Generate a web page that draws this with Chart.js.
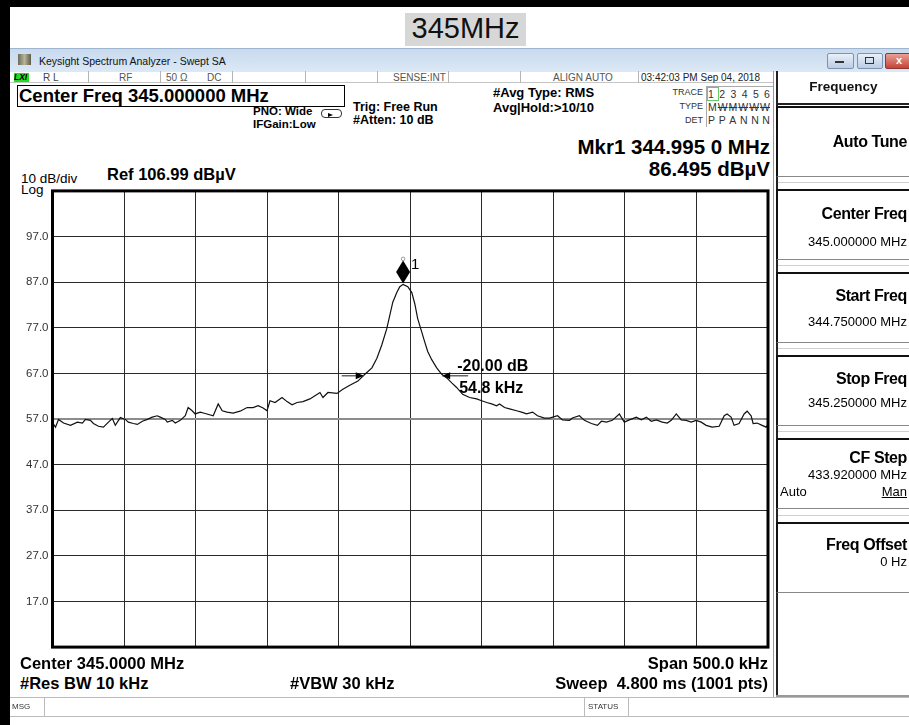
<!DOCTYPE html>
<html>
<head>
<meta charset="utf-8">
<script src="https://cdn.jsdelivr.net/npm/chart.js@4.4.0/dist/chart.umd.min.js"></script>
<style>
body{margin:0;width:909px;height:725px;position:relative;overflow:hidden;background:#fff;font-family:"Liberation Sans",Arial,sans-serif;color:#000}
.a{position:absolute;white-space:nowrap;line-height:1}
.b{font-weight:bold}
.r{text-align:right}
.key{position:absolute;left:776px;width:140px;height:68px;border-top:2px solid #111;border-left:2px solid #111;border-bottom:1px solid #888;background:#fff}
.gap{position:absolute;left:778px;width:131px;height:1px;background:#d0d0d0}
.sep{position:absolute;top:71px;width:1px;height:12px;background:#b5b5b5}
.tr{position:absolute;left:708px;width:62px;display:flex;justify-content:space-between;font-size:10.5px;line-height:1;color:#333}
.kl{font-size:16px;letter-spacing:-0.4px}
</style>
</head>
<body>
<!-- frame -->
<div class="a" style="left:0;top:0;width:909px;height:7px;background:#000"></div>
<div class="a" style="left:0;top:0;width:10px;height:725px;background:#000"></div>

<div class="a" style="left:405px;top:13px;width:121px;height:33px;background:#d7d7d7"></div>
<div class="a" style="left:405px;top:14px;width:121px;font-size:29px;text-align:center;color:#111">345MHz</div>

<!-- window title bar -->
<div class="a" style="left:10px;top:48px;width:899px;height:23px;background:linear-gradient(#c8daee,#dce8f5);border-top:1px solid #9fb4cf"></div>
<div class="a" style="left:18px;top:54px;width:13px;height:11px;background:linear-gradient(90deg,#6b6b5a,#b8b49a,#5c5c4c)"></div>
<div class="a" style="left:39px;top:55.5px;font-size:10.5px;color:#111">Keysight Spectrum Analyzer - Swept SA</div>
<div class="a" style="left:827px;top:53px;width:25px;height:14px;border:1px solid #7d93b0;border-radius:2px;background:linear-gradient(#e8f0f9,#bccde3)"></div>
<div class="a" style="left:835px;top:61px;width:9px;height:2px;background:#333"></div>
<div class="a" style="left:857px;top:53px;width:24px;height:14px;border:1px solid #7d93b0;border-radius:2px;background:linear-gradient(#e8f0f9,#bccde3)"></div>
<div class="a" style="left:865px;top:57px;width:7px;height:5px;border:1px solid #333"></div>
<div class="a" style="left:885px;top:53px;width:30px;height:14px;border:1px solid #8a3a32;border-radius:2px;background:linear-gradient(#e8a093,#c6443a)"></div>
<div class="a b" style="left:896px;top:55px;font-size:11px;color:#fff">x</div>

<!-- status row -->
<div class="a" style="left:10px;top:82px;width:763px;height:1px;background:#c5c5c5"></div>
<div class="a" style="left:14px;top:73px;width:15px;height:9px;background:#22dd22"></div>
<div class="a b" style="left:14px;top:73px;font-size:8.5px;font-style:italic">LXI</div>
<div class="a" style="left:43px;top:72.5px;font-size:10px;color:#444">R L</div>
<div class="sep" style="left:88px"></div>
<div class="a" style="left:119px;top:72.5px;font-size:10px;color:#555">RF</div>
<div class="sep" style="left:160px"></div>
<div class="a" style="left:166px;top:72.5px;font-size:10px;color:#555">50 Ω</div>
<div class="a" style="left:207px;top:72.5px;font-size:10px;color:#555">DC</div>
<div class="sep" style="left:232px"></div>
<div class="sep" style="left:305px"></div>
<div class="sep" style="left:377px"></div>
<div class="a" style="left:393px;top:72.5px;font-size:10px;color:#555">SENSE:INT</div>
<div class="sep" style="left:448px"></div>
<div class="sep" style="left:520px"></div>
<div class="a" style="left:553px;top:72.5px;font-size:10px;color:#555">ALIGN AUTO</div>
<div class="sep" style="left:638px"></div>
<div class="a" style="left:641px;top:72.5px;font-size:10px;color:#222">03:42:03 PM Sep 04, 2018</div>

<!-- settings -->
<div class="a" style="left:17px;top:85px;width:326px;height:20px;border:1px solid #000"></div>
<div class="a b" style="left:19px;top:86.5px;font-size:18.5px">Center Freq 345.000000 MHz</div>
<div class="a b" style="left:253px;top:105.5px;font-size:11.5px">PNO: Wide</div>
<div class="a" style="left:321px;top:109px;width:19px;height:7px;border:1px solid #333;border-radius:4px"></div>
<div class="a" style="left:328px;top:113px;width:0;height:0;border-left:5px solid #000;border-top:2.5px solid transparent;border-bottom:2.5px solid transparent"></div>
<div class="a b" style="left:253px;top:118.5px;font-size:11.5px">IFGain:Low</div>
<div class="a b" style="left:353px;top:101.4px;font-size:12.5px">Trig: Free Run</div>
<div class="a b" style="left:353px;top:114.4px;font-size:12.5px">#Atten: 10 dB</div>
<div class="a b" style="left:493px;top:86.3px;font-size:13px">#Avg Type: RMS</div>
<div class="a b" style="left:493px;top:101.3px;font-size:13px">Avg|Hold:&gt;10/10</div>

<!-- trace table -->
<div class="a r" style="left:660px;width:43px;top:88px;font-size:9px;color:#333">TRACE</div>
<div class="a r" style="left:660px;width:43px;top:102px;font-size:9px;color:#333">TYPE</div>
<div class="a r" style="left:660px;width:43px;top:116px;font-size:9px;color:#333">DET</div>
<div class="a" style="left:706px;top:86px;width:67px;height:40px;border-left:1px solid #aaa;border-top:1px solid #aaa"></div>
<div class="a" style="left:707px;top:87px;width:10px;height:12px;border:1px solid #6c6"></div>
<div class="tr" style="top:89px"><span>1</span><span>2</span><span>3</span><span>4</span><span>5</span><span>6</span></div>
<div class="tr" style="top:102px"><span>M</span><s>W</s><s>M</s><s>W</s><s>W</s><s>W</s></div>
<div class="tr" style="top:115px"><span>P</span><span>P</span><span>A</span><span>N</span><span>N</span><span>N</span></div>

<div class="a b r" style="right:139px;top:137.3px;font-size:20.5px">Mkr1 344.995 0 MHz</div>
<div class="a b r" style="right:139px;top:159.3px;font-size:20.5px">86.495 dBµV</div>

<div class="a" style="left:21px;top:172px;font-size:13.5px">10 dB/div</div>
<div class="a" style="left:21px;top:182.5px;font-size:13.5px">Log</div>
<div class="a b" style="left:107px;top:165.9px;font-size:16.5px">Ref 106.99 dBµV</div>

<canvas id="sa" class="a" style="left:14px;top:180px" width="760" height="478"></canvas>

<div class="a b" style="left:20px;top:654.9px;font-size:16.5px">Center 345.0000 MHz</div>
<div class="a b r" style="right:141px;top:654.9px;font-size:16.5px">Span 500.0 kHz</div>
<div class="a b" style="left:20px;top:674.9px;font-size:16.5px">#Res BW 10 kHz</div>
<div class="a b" style="left:290px;top:674.9px;font-size:16.5px">#VBW 30 kHz</div>
<div class="a b r" style="right:141px;top:674.9px;font-size:16.5px">Sweep&nbsp; 4.800 ms (1001 pts)</div>

<!-- soft keys -->
<div class="a" style="left:773px;top:71px;width:1px;height:626px;background:#999"></div>
<div class="a" style="left:776px;top:71px;width:2px;height:625px;background:#222"></div>
<div class="a" style="left:776px;top:103px;width:133px;height:2px;background:#222"></div>
<div class="a b" style="left:778px;width:131px;top:80px;font-size:13.5px;text-align:center;color:#111">Frequency</div>
<div class="key" style="top:106px"></div>
<div class="a b r kl" style="right:2px;top:134px">Auto Tune</div>
<div class="gap" style="top:182px"></div>
<div class="key" style="top:189px"></div>
<div class="a b r kl" style="right:2px;top:205.5px">Center Freq</div>
<div class="a r" style="right:2px;top:235px;font-size:13px">345.000000 MHz</div>
<div class="gap" style="top:265px"></div>
<div class="key" style="top:272px"></div>
<div class="a b r kl" style="right:2px;top:287.5px">Start Freq</div>
<div class="a r" style="right:2px;top:315px;font-size:13px">344.750000 MHz</div>
<div class="gap" style="top:348px"></div>
<div class="key" style="top:355px"></div>
<div class="a b r kl" style="right:2px;top:370.5px">Stop Freq</div>
<div class="a r" style="right:2px;top:396px;font-size:13px">345.250000 MHz</div>
<div class="gap" style="top:431px"></div>
<div class="key" style="top:438px"></div>
<div class="a b r kl" style="right:2px;top:450px">CF Step</div>
<div class="a r" style="right:2px;top:468px;font-size:13px">433.920000 MHz</div>
<div class="a" style="left:780px;top:485px;font-size:13px">Auto</div>
<div class="a r" style="right:2px;top:485px;font-size:13px;text-decoration:underline">Man</div>
<div class="gap" style="top:515px"></div>
<div class="key" style="top:522px"></div>
<div class="a b r kl" style="right:2px;top:537px">Freq Offset</div>
<div class="a r" style="right:2px;top:555px;font-size:13px">0 Hz</div>
<div class="a" style="left:776px;top:695px;width:133px;height:2px;background:#999"></div>

<!-- message bar -->
<div class="a" style="left:10px;top:697px;width:899px;height:18px;border-top:1px solid #bbb;border-bottom:1px solid #bbb"></div>
<div class="a" style="left:12px;top:703px;font-size:8px;color:#333">MSG</div>
<div class="a" style="left:44px;top:698px;width:1px;height:18px;background:#bbb"></div>
<div class="a" style="left:584px;top:698px;width:1px;height:18px;background:#bbb"></div>
<div class="a" style="left:588px;top:703px;font-size:8px;color:#333">STATUS</div>
<div class="a" style="left:628px;top:698px;width:1px;height:18px;background:#bbb"></div>

<script>
// trace: offset from start freq 344.75 MHz (kHz), level (dBuV)
var freqOffsetKHz = [0,2.1,4.2,7.7,12.6,17.4,20.9,23.0,26.5,28.6,
  32.1,35.6,39.1,41.8,43.9,47.4,50.9,53.0,56.5,59.3,
  62.8,66.3,69.7,73.2,75.3,78.8,80.2,83.7,85.8,89.3,
  92.8,94.8,97.6,99.7,103.2,106.7,112.3,115.8,118.6,122.0,
  126.2,131.1,136.0,140.2,143.7,147.2,149.9,152.0,155.5,160.4,
  163.9,167.4,170.9,175.0,179.9,183.4,186.9,189.0,192.5,198.8,
  202.9,207.8,213.4,218.3,223.2,226.7,230.1,233.6,235.7,237.8,
  240.6,242.7,245.0,248.3,251.1,253.2,255.2,258.0,260.1,262.2,
  265.0,268.5,272.0,275.5,279.0,282.4,286.6,291.5,296.4,299.9,
  303.4,306.9,310.3,312.4,315.9,319.4,324.3,327.8,331.3,335.5,
  338.9,343.8,347.3,352.9,356.4,361.3,363.3,368.2,371.7,376.6,
  380.8,383.6,387.1,391.2,396.1,399.6,403.1,408.0,411.5,415.0,
  418.4,421.9,426.1,429.6,432.4,435.9,439.4,442.9,446.3,449.8,
  453.3,456.8,461.0,465.9,469.4,471.4,474.2,476.3,479.8,483.3,
  485.4,488.2,489.6,492.4,495.9,498.7,500];
var levelDbuv = [56.2,55.2,56.9,56.1,55.6,56.3,56.1,56.9,56.7,56.0,
  55.4,55.2,56.3,57.1,55.6,57.3,56.9,56.3,56.0,55.8,
  56.5,56.9,57.4,57.7,57.4,56.9,56.3,56.7,56.1,56.7,
  57.7,59.5,58.8,58.1,58.5,58.2,57.7,60.3,58.8,58.5,
  58.3,58.7,59.5,59.5,59.9,59.4,58.8,61.0,60.6,61.7,
  60.8,60.1,60.6,60.8,61.4,62.1,62.8,61.7,62.8,62.6,
  63.5,64.4,65.3,66.8,68.2,70.3,73.2,76.8,79.7,82.6,
  84.7,86.0,86.5,86.0,84.7,82.2,79.0,76.1,73.9,71.8,
  70.0,68.2,66.8,66.0,64.9,63.9,62.4,61.7,61.4,61.0,
  60.6,60.3,59.9,60.3,59.5,59.2,58.8,58.5,58.1,58.5,
  57.7,57.2,57.2,57.7,56.8,56.7,57.2,57.7,56.7,56.0,
  55.6,56.5,56.3,56.7,58.1,56.3,56.8,57.4,56.8,57.4,
  56.5,56.8,56.3,56.1,56.7,58.1,56.8,56.7,56.3,56.7,
  56.3,55.6,55.2,55.4,57.7,58.1,57.4,55.6,56.0,58.1,
  58.7,57.7,56.0,56.1,55.6,55.2,55.8];

var yGridDb = [6.99,16.99,26.99,36.99,46.99,56.99,66.99,76.99,86.99,96.99,106.99];
var yTickLabels = ['','17.0','27.0','37.0','47.0','57.0','67.0','77.0','87.0','97.0',''];
var displayLineDb = 56.99;

var markerKHz = 245.0;
var markerDb = 86.495;
var bwDropDb = -20;
var bwEdgesKHz = [217.5, 272.3];

var points = [];
for (var i = 0; i < freqOffsetKHz.length; i++) {
  points.push({x: freqOffsetKHz[i], y: levelDbuv[i]});
}

var overlay = {
  id: 'overlay',
  afterDatasetsDraw: function(chart) {
    var c = chart.ctx, a = chart.chartArea;
    var xs = chart.scales.x, ys = chart.scales.y;
    c.save();
    // frame
    c.strokeStyle = '#000';
    c.lineWidth = 3;
    c.strokeRect(a.left, a.top, a.right - a.left, a.bottom - a.top);

    // marker 1
    var px = xs.getPixelForValue(markerKHz), py = ys.getPixelForValue(markerDb);
    c.fillStyle = '#000';
    c.beginPath();
    c.moveTo(px, py - 24);
    c.lineTo(px + 7, py - 12.5);
    c.lineTo(px, py - 1);
    c.lineTo(px - 7, py - 12.5);
    c.closePath();
    c.fill();
    c.strokeStyle = '#999';
    c.lineWidth = 1;
    c.beginPath();
    c.arc(px, py - 25.5, 1.8, 0, Math.PI * 2);
    c.stroke();
    c.font = '15px "Liberation Sans"';
    c.fillText('1', px + 8, py - 15);

    // n dB bandwidth arrows
    var by = ys.getPixelForValue(markerDb + bwDropDb);
    var xl = xs.getPixelForValue(bwEdgesKHz[0]), xr = xs.getPixelForValue(bwEdgesKHz[1]);
    c.strokeStyle = '#666';
    c.lineWidth = 1.5;
    c.beginPath();
    c.moveTo(xl - 22, by); c.lineTo(xl, by);
    c.moveTo(xr, by); c.lineTo(xr + 26, by);
    c.stroke();
    c.fillStyle = '#000';
    c.beginPath();
    c.moveTo(xl, by); c.lineTo(xl - 8, by - 3.5); c.lineTo(xl - 8, by + 3.5); c.closePath();
    c.moveTo(xr, by); c.lineTo(xr + 8, by - 3.5); c.lineTo(xr + 8, by + 3.5); c.closePath();
    c.fill();
    c.font = 'bold 16px "Liberation Sans"';
    c.fillText(bwDropDb.toFixed(2) + ' dB', xr + 15, by - 5);
    c.fillText((bwEdgesKHz[1] - bwEdgesKHz[0]).toFixed(1) + ' kHz', xr + 17, by + 17);
    c.restore();
  }
};

var chart = new Chart(document.getElementById('sa'), {
  type: 'line',
  data: {
    datasets: [{
      data: points,
      borderColor: '#111',
      borderWidth: 1.2,
      pointRadius: 0,
      tension: 0
    }]
  },
  options: {
    responsive: false,
    animation: false,
    events: [],
    layout: {padding: {top: 6, right: 6, bottom: 7, left: 0}},
    plugins: {legend: {display: false}, tooltip: {enabled: false}},
    scales: {
      x: {
        type: 'linear', min: 0, max: 500,
        ticks: {display: false, stepSize: 50},
        grid: {color: '#2a2a2a', lineWidth: 1, drawTicks: false},
        border: {display: false},
        afterFit: function(s) { s.height = 0; }
      },
      y: {
        min: 6.99, max: 106.99,
        afterBuildTicks: function(s) { s.ticks = yGridDb.map(function(v) { return {value: v}; }); },
        ticks: {
          autoSkip: false,
          padding: 4,
          color: '#333',
          font: {family: 'Liberation Sans', size: 11.5},
          callback: function(v, i) { return yTickLabels[i]; }
        },
        grid: {
          drawTicks: false,
          color: function(ctx) { return ctx.tick && Math.abs(ctx.tick.value - displayLineDb) < 0.01 ? '#8c8c8c' : '#2a2a2a'; },
          lineWidth: function(ctx) { return ctx.tick && Math.abs(ctx.tick.value - displayLineDb) < 0.01 ? 2 : 1; }
        },
        border: {display: false},
        afterFit: function(s) { s.width = 38.5; }
      }
    }
  },
  plugins: [overlay]
});
</script>
</body>
</html>
